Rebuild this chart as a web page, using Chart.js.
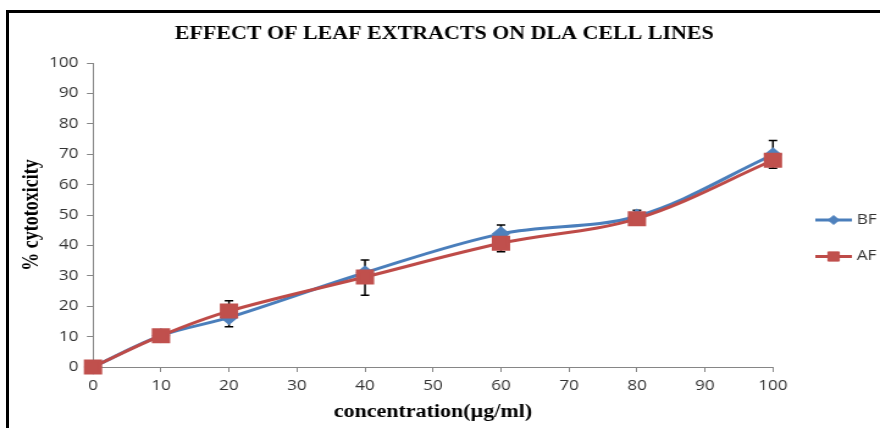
<!DOCTYPE html>
<html><head><meta charset="utf-8">
<script src="https://cdn.jsdelivr.net/npm/chart.js@4.4.0/dist/chart.umd.min.js"></script>
<style>
html,body{margin:0;padding:0;background:#fff;overflow:hidden;width:880px;height:428px;}
#wrap{position:absolute;left:0;top:0;width:721px;height:428px;transform:scaleX(1.2205);transform-origin:0 0;}
#frame{position:absolute;left:6px;top:10px;width:874px;height:418px;border-left:3px solid #000;border-top:3px solid #000;box-sizing:border-box;pointer-events:none;}
</style></head><body>
<div id="wrap"><canvas id="c"></canvas></div>
<div id="frame"></div>
<script>
const chartTitle = 'EFFECT OF LEAF EXTRACTS ON DLA CELL LINES';
const xTitle = 'concentration(µg/ml)';
const yTitle = '% cytotoxicity';
const concentrations = [0, 10, 20, 40, 60, 80, 100];
const bfValues = [0, 10.3, 16.3, 31.0, 43.8, 49.6, 69.8];
const afValues = [0, 10.3, 18.4, 29.6, 40.7, 48.8, 68.0];
const errLow  = [null, null, 13.2, 23.6, 37.9, 47.5, 65.4];
const errHigh = [null, null, 21.8, 35.2, 46.7, 51.6, 74.5];
const seriesNames = ['BF', 'AF'];
const xRange = [0, 100, 10];
const yRange = [0, 100, 10];

const blue = '#4A7EBB', blueFill = '#4F81BD';
const red = '#BE4B48', redFill = '#C0504D';

const toPts = vals => concentrations.map((c, i) => ({x: c, y: vals[i]}));

const errorBars = {
  id: 'errorBars',
  beforeDatasetsDraw(chart) {
    const {ctx, scales: {x, y}} = chart;
    ctx.save();
    ctx.strokeStyle = '#000';
    ctx.lineWidth = 1.5;
    concentrations.forEach((c, i) => {
      if (errLow[i] == null) return;
      const px = x.getPixelForValue(c);
      const y1 = y.getPixelForValue(errHigh[i]);
      const y2 = y.getPixelForValue(errLow[i]);
      ctx.beginPath();
      ctx.moveTo(px, y1); ctx.lineTo(px, y2);
      ctx.moveTo(px - 3.5, y1); ctx.lineTo(px + 3.5, y1);
      ctx.moveTo(px - 3.5, y2); ctx.lineTo(px + 3.5, y2);
      ctx.stroke();
    });
    ctx.restore();
  }
};

const legendMarkerRadius = [4.5, 6.5];

const customText = {
  id: 'customText',
  afterDraw(chart) {
    const ctx = chart.ctx;
    ctx.save();
    ctx.fillStyle = '#000';
    ctx.font = 'bold 18px "Liberation Serif"';
    ctx.textAlign = 'center';
    ctx.textBaseline = 'middle';
    ctx.fillText(chartTitle, 364, 34);
    // legend
    const rows = [220, 256.5];
    chart.data.datasets.forEach((ds, i) => {
      const yy = rows[i];
      ctx.strokeStyle = ds.borderColor;
      ctx.lineWidth = 3;
      ctx.beginPath(); ctx.moveTo(668, yy); ctx.lineTo(698, yy); ctx.stroke();
      ctx.fillStyle = ds.pointBackgroundColor;
      ctx.strokeStyle = ds.pointBorderColor;
      ctx.lineWidth = 1;
      Chart.helpers.drawPoint(ctx, {pointStyle: ds.pointStyle, radius: legendMarkerRadius[i], rotation: 0, borderWidth: 1}, 683, yy);
      ctx.fillStyle = '#333';
      ctx.font = '14px "Open Sans"';
      ctx.textAlign = 'left';
      ctx.fillText(ds.label, 702, yy);
    });
    ctx.restore();
  }
};

new Chart(document.getElementById('c'), {
  type: 'line',
  data: {
    datasets: [
      {label: seriesNames[0], data: toPts(bfValues), borderColor: blue, borderWidth: 3,
       pointStyle: 'rectRot', pointRadius: 5.5, pointBackgroundColor: blueFill, pointBorderColor: blueFill,
       tension: 0.35, clip: false, order: 1},
      {label: seriesNames[1], data: toPts(afValues), borderColor: red, borderWidth: 3,
       pointStyle: 'rect', pointRadius: 8.5, pointBackgroundColor: redFill, pointBorderColor: redFill,
       tension: 0.35, clip: false, order: 0}
    ]
  },
  options: {
    responsive: true, maintainAspectRatio: false, animation: false,
    layout: {padding: {left: 4, right: 87.7, top: 63, bottom: 4}},
    plugins: {legend: {display: false}, tooltip: {enabled: false}, title: {display: false}},
    scales: {
      x: {
        type: 'linear', min: xRange[0], max: xRange[1],
        ticks: {stepSize: xRange[2], padding: 6, color: '#333', font: {family: 'Open Sans', size: 14}},
        grid: {drawOnChartArea: false, tickLength: 5, color: '#868686'},
        border: {color: '#868686', width: 1},
        title: {display: true, text: xTitle, color: '#000', font: {family: 'Liberation Serif', size: 18, weight: 'bold'}, padding: {top: 0, bottom: 1}},
        afterFit(s) { s.height = 57; }
      },
      y: {
        min: yRange[0], max: yRange[1],
        ticks: {stepSize: yRange[2], padding: 7, color: '#333', font: {family: 'Open Sans', size: 14}},
        grid: {drawOnChartArea: false, tickLength: 5, color: '#868686'},
        border: {color: '#868686', width: 1},
        title: {display: true, text: yTitle, color: '#000', font: {family: 'Liberation Serif', size: 18, weight: 'bold'}, padding: {top: 11.4, bottom: 0}},
        afterFit(s) { s.width = 72.2; }
      }
    }
  },
  plugins: [errorBars, customText]
});
</script>
</body></html>
